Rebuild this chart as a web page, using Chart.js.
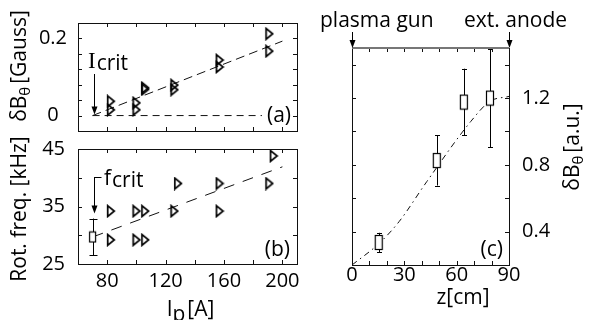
<!DOCTYPE html>
<html>
<head>
<meta charset="utf-8">
<script src="https://cdn.jsdelivr.net/npm/chart.js@4.4.1/dist/chart.umd.min.js"></script>
<style>
  html, body { margin: 0; padding: 0; background: #fff; }
  #wrap { position: relative; width: 591px; height: 320px; }
  #wrap canvas { position: absolute; left: 0; top: 0; }
</style>
</head>
<body>
<div id="wrap">
  <canvas id="chartA" width="591" height="320"></canvas>
  <canvas id="chartB" width="591" height="320"></canvas>
  <canvas id="chartC" width="591" height="320"></canvas>
</div>
<script>
// (a) dB_theta [Gauss] vs Ip [A]
const ipA = [82.5, 82.5, 100, 100, 106, 106, 126, 126, 157, 157, 191, 191];
const dBa = [0.037, 0.015, 0.033, 0.015, 0.072, 0.068, 0.079, 0.067, 0.144, 0.126, 0.212, 0.167];
const fitAx = [70, 200];
const fitAy = [0, 0.193];
const zeroAx = [70, 186];
const zeroAy = [0, 0];
const ticksAy = [-0.04, 0, 0.04, 0.08, 0.12, 0.16, 0.2, 0.24];
const labelsAy = [0, 0.2];

// (b) rotation frequency [kHz] vs Ip [A]
const ipB = [82.5, 82.5, 100, 100, 106, 106, 126, 128.5, 157, 157, 191, 194];
const freqB = [34.2, 29.2, 34.2, 29.2, 34.2, 29.2, 34.2, 39.0, 39.0, 34.2, 39.0, 43.8];
const critIp = [70];
const critF = [29.7];
const critErr = [3.2];
const fitBx = [70, 200];
const fitBy = [29.7, 41.9];
const ticksBy = [25, 30, 35, 40, 45];
const labelsBy = [25, 35, 45];
const ticksIp = [60, 80, 100, 120, 140, 160, 180, 200, 210];
const labelsIp = [80, 120, 160, 200];

// (c) dB_theta [a.u.] vs z [cm]
const zC = [15.3, 48.6, 64.1, 79.1];
const dBc = [0.335, 0.826, 1.176, 1.2];
const errC = [0.058, 0.15, 0.2, 0.295];
const curveZ = [0, 15.6, 27, 42.9, 68.1, 79, 90];
const curveB = [0.2, 0.33, 0.46, 0.70, 1.06, 1.18, 1.21];
const ticksCy = [0.2, 0.4, 0.6, 0.8, 1.0, 1.2, 1.4, 1.5];
const labelsCy = [0.4, 0.8, 1.2];
const ticksCx = [0, 10, 20, 30, 40, 50, 60, 70, 80, 90];
const labelsCx = [0, 30, 60, 90];

const FONT = "'Open Sans', 'DejaVu Sans', sans-serif";
const INK = '#000';

const zip = (xs, ys) => xs.map((x, i) => ({ x: x, y: ys[i] }));
const near = (v, list) => list.some(t => Math.abs(t - v) < 1e-6);
const setTicks = list => s => { s.ticks = list.map(v => ({ value: v })); };

// open right-pointing triangle marker
function triImg() {
  const c = document.createElement('canvas');
  c.width = 10; c.height = 14;
  const g = c.getContext('2d');
  g.strokeStyle = '#000';
  g.lineWidth = 1.7;
  g.lineJoin = 'miter';
  g.beginPath();
  g.moveTo(1.8, 1.6);
  g.lineTo(8.4, 7);
  g.lineTo(1.8, 12.4);
  g.closePath();
  g.stroke();
  return c;
}

// open rectangle marker
function boxImg(w, h) {
  const c = document.createElement('canvas');
  c.width = w + 2; c.height = h + 2;
  const g = c.getContext('2d');
  g.fillStyle = '#fff';
  g.fillRect(1, 1, w, h);
  g.strokeStyle = '#000';
  g.lineWidth = 1.2;
  g.strokeRect(1.5, 1.5, w - 1, h - 1);
  return c;
}

// frame around the plot area with inward ticks on every side
const frame = {
  id: 'frame',
  afterDatasetsDraw(chart, args, opts) {
    const { ctx, chartArea: a, scales } = chart;
    const len = 4;
    ctx.save();
    ctx.strokeStyle = '#111';
    ctx.lineWidth = 1;
    ctx.beginPath();
    scales.x.ticks.forEach(t => {
      const px = Math.round(scales.x.getPixelForValue(t.value)) + 0.5;
      if (px < a.left + 2 || px > a.right - 2) return;
      ctx.moveTo(px, a.top); ctx.lineTo(px, a.top + len);
      ctx.moveTo(px, a.bottom); ctx.lineTo(px, a.bottom - len);
    });
    scales.y.ticks.forEach(t => {
      const py = Math.round(scales.y.getPixelForValue(t.value)) + 0.5;
      if (py < a.top + 2 || py > a.bottom - 2) return;
      ctx.moveTo(a.left, py); ctx.lineTo(a.left + len, py);
      ctx.moveTo(a.right, py); ctx.lineTo(a.right - len, py);
    });
    ctx.stroke();
    ctx.strokeRect(Math.round(a.left) + 0.5, Math.round(a.top) + 0.5,
                   Math.round(a.right - a.left), Math.round(a.bottom - a.top));
    if (opts.topColor) {
      ctx.strokeStyle = opts.topColor;
      ctx.lineWidth = 2;
      ctx.beginPath();
      ctx.moveTo(a.left, Math.round(a.top));
      ctx.lineTo(a.right, Math.round(a.top));
      ctx.stroke();
    }
    ctx.restore();
  }
};

// vertical error bars, drawn under the markers
const errorBars = {
  id: 'errorBars',
  beforeDatasetsDraw(chart) {
    const { ctx, scales } = chart;
    ctx.save();
    ctx.strokeStyle = '#000';
    ctx.lineWidth = 1;
    chart.data.datasets.forEach(ds => {
      if (!ds.errors) return;
      ds.data.forEach((p, i) => {
        const x = Math.round(scales.x.getPixelForValue(p.x)) + 0.5;
        const y1 = scales.y.getPixelForValue(p.y + ds.errors[i]);
        const y2 = scales.y.getPixelForValue(p.y - ds.errors[i]);
        const c = ds.capHalf;
        ctx.beginPath();
        ctx.moveTo(x, y1); ctx.lineTo(x, y2);
        ctx.moveTo(x - c, Math.round(y1) + 0.5); ctx.lineTo(x + c, Math.round(y1) + 0.5);
        ctx.moveTo(x - c, Math.round(y2) + 0.5); ctx.lineTo(x + c, Math.round(y2) + 0.5);
        ctx.stroke();
      });
    });
    ctx.restore();
  }
};

// text with a lowered (subscript-like) part
function richText(ctx, parts, x, y, align) {
  let w = 0;
  parts.forEach(p => { ctx.font = p.font; w += ctx.measureText(p.t).width + (p.gap || 0); });
  let cx = align === 'center' ? x - w / 2 : (align === 'right' ? x - w : x);
  ctx.textAlign = 'left';
  ctx.textBaseline = 'alphabetic';
  parts.forEach(p => {
    ctx.font = p.font;
    ctx.fillText(p.t, cx, y + (p.dy || 0));
    cx += ctx.measureText(p.t).width + (p.gap || 0);
  });
}

function arrowDown(ctx, x, y0, y1) {
  ctx.beginPath();
  ctx.moveTo(x, y0); ctx.lineTo(x, y1 - 6);
  ctx.stroke();
  ctx.beginPath();
  ctx.moveTo(x - 3, y1 - 8); ctx.lineTo(x + 3, y1 - 8); ctx.lineTo(x, y1);
  ctx.closePath();
  ctx.fill();
}

const f21 = '21px ' + FONT;
const fsub = '15px ' + FONT;

function yAxisLeft(min, max, ticks, labels, pad) {
  return {
    type: 'linear', position: 'left', min: min, max: max,
    grid: { display: false, drawTicks: false }, border: { display: false },
    afterBuildTicks: setTicks(ticks),
    ticks: {
      autoSkip: false, padding: pad, crossAlign: 'center',
      color: INK, font: { family: FONT, size: 20 },
      callback: v => near(v, labels) ? String(Math.round(v * 10) / 10) : ''
    },
    afterFit: s => { s.width = 78; }
  };
}

function xAxisIp(labels, h) {
  return {
    type: 'linear', position: 'bottom', min: 60, max: 210,
    grid: { display: false, drawTicks: false }, border: { display: false },
    afterBuildTicks: setTicks(ticksIp),
    ticks: {
      autoSkip: false, maxRotation: 0, padding: 5,
      display: labels.length > 0,
      color: INK, font: { family: FONT, size: 20 },
      callback: v => near(v, labels) ? String(v) : ''
    },
    afterFit: s => { s.height = h; }
  };
}

const baseOpts = {
  responsive: false,
  animation: false,
  events: [],
  plugins: { legend: { display: false }, tooltip: { enabled: false } }
};

const tri = triImg();

// ---- panel (a)
new Chart(document.getElementById('chartA'), {
  type: 'scatter',
  data: {
    datasets: [
      { data: zip(ipA, dBa), pointStyle: tri, pointRadius: 6, showLine: false },
      { data: zip(fitAx, fitAy), showLine: true, pointRadius: 0, borderColor: '#111',
        borderWidth: 1, borderDash: [9, 5] },
      { data: zip(zeroAx, zeroAy), showLine: true, pointRadius: 0, borderColor: '#111',
        borderWidth: 1, borderDash: [7, 5] }
    ]
  },
  options: {
    ...baseOpts,
    layout: { padding: { left: 0, top: 18, right: 294, bottom: 189 } },
    scales: { x: xAxisIp([], 0), y: yAxisLeft(-0.04, 0.24, ticksAy, labelsAy, 11) },
    plugins: { ...baseOpts.plugins, frame: {} }
  },
  plugins: [frame, {
    id: 'notesA',
    afterDraw(chart) {
      const { ctx, scales: { x, y }, chartArea: a } = chart;
      ctx.save();
      ctx.fillStyle = INK; ctx.strokeStyle = INK; ctx.lineWidth = 1;
      const ax = Math.round(x.getPixelForValue(71)) + 0.5;
      arrowDown(ctx, ax, 74, y.getPixelForValue(0) - 1);
      richText(ctx, [
        { t: 'I', font: "23px 'Liberation Serif', serif", gap: 1 },
        { t: 'crit', font: f21, dy: 2 }
      ], 88, 68, 'left');
      ctx.font = f21;
      ctx.textAlign = 'right'; ctx.textBaseline = 'middle';
      ctx.fillText('(a)', a.right - 6, y.getPixelForValue(0));
      ctx.translate(18, 66);
      ctx.rotate(-Math.PI / 2);
      richText(ctx, [
        { t: 'δB', font: f21 },
        { t: 'θ', font: fsub, dy: 4, gap: 3 },
        { t: '[Gauss]', font: f21 }
      ], 0, 8, 'center');
      ctx.restore();
    }
  }]
});

// ---- panel (b)
new Chart(document.getElementById('chartB'), {
  type: 'scatter',
  data: {
    datasets: [
      { data: zip(critIp, critF), errors: critErr, capHalf: 4,
        pointStyle: boxImg(7, 11), pointRadius: 6, showLine: false },
      { data: zip(ipB, freqB), pointStyle: tri, pointRadius: 6, showLine: false },
      { data: zip(fitBx, fitBy), showLine: true, pointRadius: 0, borderColor: '#111',
        borderWidth: 1, borderDash: [11, 9] }
    ]
  },
  options: {
    ...baseOpts,
    layout: { padding: { left: 0, top: 149, right: 294, bottom: 0 } },
    scales: { x: xAxisIp(labelsIp, 56), y: yAxisLeft(25, 45, ticksBy, labelsBy, 13) },
    plugins: { ...baseOpts.plugins, frame: {} }
  },
  plugins: [frame, errorBars, {
    id: 'notesB',
    afterDraw(chart) {
      const { ctx, scales: { x, y }, chartArea: a } = chart;
      ctx.save();
      ctx.fillStyle = INK; ctx.strokeStyle = INK; ctx.lineWidth = 1;
      const ax = Math.round(x.getPixelForValue(71)) + 0.5;
      ctx.beginPath();
      ctx.moveTo(ax + 7, 177.5); ctx.lineTo(ax, 177.5);
      ctx.stroke();
      arrowDown(ctx, ax, 177, y.getPixelForValue(critF[0] + critErr[0]) - 5);
      richText(ctx, [
        { t: 'f', font: f21, gap: 1 },
        { t: 'crit', font: f21, dy: 2 }
      ], 104, 185, 'left');
      ctx.font = f21;
      ctx.textAlign = 'right'; ctx.textBaseline = 'middle';
      ctx.fillText('(b)', a.right - 7, 250);
      // x title
      richText(ctx, [
        { t: 'I', font: f21 },
        { t: 'p', font: f21, dy: 5, gap: 2 },
        { t: '[A]', font: f21 }
      ], (a.left + a.right) / 2 + 3, 316, 'center');
      ctx.translate(18, 209);
      ctx.rotate(-Math.PI / 2);
      ctx.font = f21;
      ctx.textAlign = 'center'; ctx.textBaseline = 'alphabetic';
      ctx.fillText('Rot. freq. [kHz]', 0, 8);
      ctx.restore();
    }
  }]
});

// ---- panel (c)
new Chart(document.getElementById('chartC'), {
  type: 'scatter',
  data: {
    datasets: [
      { data: zip(zC, dBc), errors: errC, capHalf: 2.5,
        pointStyle: boxImg(8, 15), pointRadius: 8, showLine: false },
      { data: zip(curveZ, curveB), showLine: true, pointRadius: 0, borderColor: '#111',
        borderWidth: 1, borderDash: [6, 4, 1.5, 4], cubicInterpolationMode: 'monotone' }
    ]
  },
  options: {
    ...baseOpts,
    layout: { padding: { left: 352, top: 48, right: 0, bottom: 0 } },
    scales: {
      x: {
        type: 'linear', position: 'bottom', min: 0, max: 90,
        grid: { display: false, drawTicks: false }, border: { display: false },
        afterBuildTicks: setTicks(ticksCx),
        ticks: {
          autoSkip: false, maxRotation: 0, padding: -2,
          color: INK, font: { family: FONT, size: 20 },
          callback: v => near(v, labelsCx) ? String(v) : ''
        },
        afterFit: s => { s.height = 55; }
      },
      y: {
        type: 'linear', position: 'right', min: 0.2, max: 1.5,
        grid: { display: false, drawTicks: false }, border: { display: false },
        afterBuildTicks: setTicks(ticksCy),
        ticks: {
          autoSkip: false, padding: 13, crossAlign: 'near',
          color: INK, font: { family: FONT, size: 20 },
          callback: v => near(v, labelsCy) ? v.toFixed(1) : ''
        },
        afterFit: s => { s.width = 82; }
      }
    },
    plugins: { ...baseOpts.plugins, frame: { topColor: '#777' } }
  },
  plugins: [frame, errorBars, {
    id: 'notesC',
    afterDraw(chart) {
      const { ctx, scales: { x, y }, chartArea: a } = chart;
      ctx.save();
      ctx.fillStyle = INK; ctx.strokeStyle = INK; ctx.lineWidth = 1;
      const g = Math.round(x.getPixelForValue(0)) + 0.5;
      const e = Math.round(x.getPixelForValue(90)) + 0.5;
      arrowDown(ctx, g, 32, a.top);
      arrowDown(ctx, e, 32, a.top);
      ctx.font = f21;
      ctx.textBaseline = 'alphabetic';
      ctx.textAlign = 'left';
      ctx.fillText('plasma gun', 320, 27);
      ctx.fillText('ext. anode', 464, 27);
      ctx.textAlign = 'right'; ctx.textBaseline = 'middle';
      ctx.fillText('(c)', a.right - 6, 250);
      ctx.textAlign = 'center'; ctx.textBaseline = 'alphabetic';
      ctx.fillText('z[cm]', 463, 304);
      ctx.translate(571, 147);
      ctx.rotate(-Math.PI / 2);
      richText(ctx, [
        { t: 'δB', font: f21 },
        { t: 'θ', font: fsub, dy: 4, gap: 3 },
        { t: '[a.u.]', font: f21 }
      ], 0, 8, 'center');
      ctx.restore();
    }
  }]
});
</script>
</body>
</html>
